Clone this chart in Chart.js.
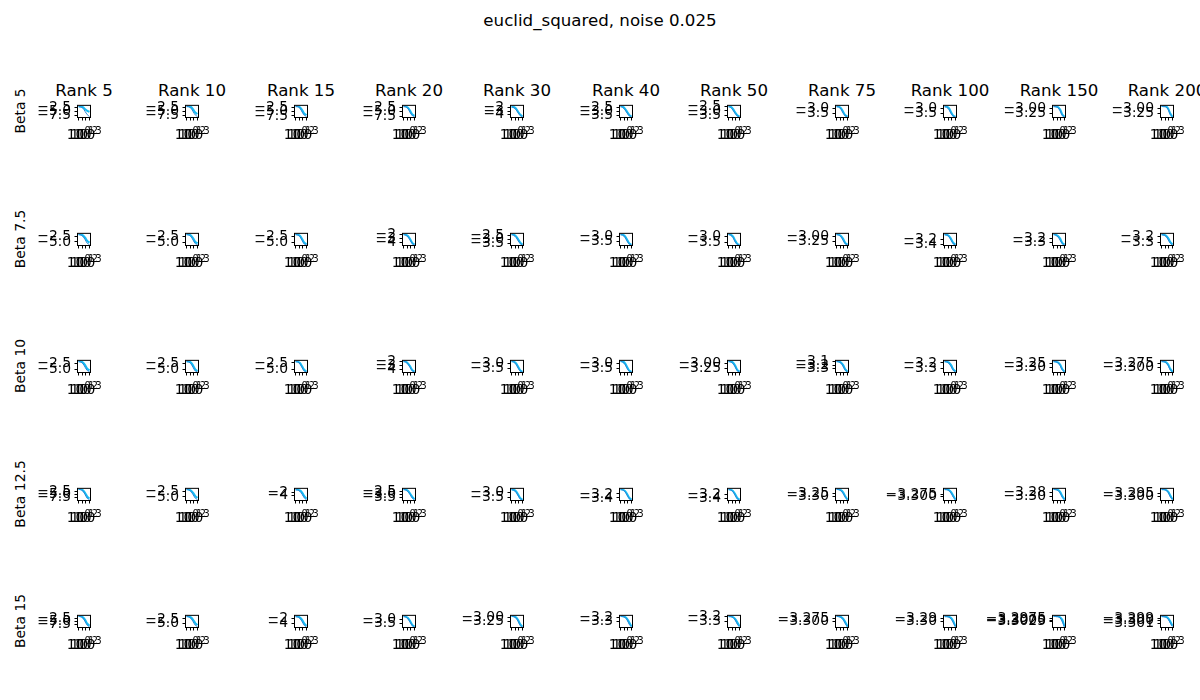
<!DOCTYPE html>
<html><head><meta charset="utf-8">
<script src="https://cdn.jsdelivr.net/npm/chart.js@4.4.0/dist/chart.umd.min.js"></script>
<style>
html,body{margin:0;padding:0;background:#fff;width:1200px;height:700px;overflow:hidden;font-family:"DejaVu Sans",sans-serif;}
#fig{position:relative;width:1200px;height:700px;}
.t{position:absolute;white-space:nowrap;color:#000;line-height:1;}
canvas{position:absolute;}
</style></head><body><div id="fig"></div>
<script>
const suptitle = "euclid_squared, noise 0.025";
const ranks = ["Rank 5","Rank 10","Rank 15","Rank 20","Rank 30","Rank 40","Rank 50","Rank 75","Rank 100","Rank 150","Rank 200"];
const betas = ["Beta 5","Beta 7.5","Beta 10","Beta 12.5","Beta 15"];
const xSteps = [1,4,16,64,250,1000];
const xTickValues = [1,10,100,1000];
const xTickBase = ["10","10","10","10"];
const xTickExp = ["0","1","2","3"];

// ---- Beta 5 ----
const limB5 = [[-8.3,-1.6],[-8.2,-1.7],[-8.1,-1.8],[-8.0,-1.8],[-4.6,-1.6],[-3.75,-2.35],[-3.7,-2.4],[-3.82,-2.73],[-3.8,-2.75],[-3.43,-2.86],[-3.42,-2.87]];
const ticksB5 = [["−2.5","−5.0","−7.5"],["−2.5","−5.0","−7.5"],["−2.5","−5.0","−7.5"],["−2.5","−5.0","−7.5"],["−2","−3","−4"],["−2.5","−3.0","−3.5"],["−2.5","−3.0","−3.5"],["−3.0","−3.5"],["−3.0","−3.5"],["−3.00","−3.25"],["−3.00","−3.25"]];
const aB5 = [
[-1.9,-2.0,-2.4,-3.6,-4.6,-5.2],
[-1.9,-2.0,-2.3,-3.8,-5.6,-6.4],
[-2.0,-2.1,-2.6,-4.2,-6.2,-7.0],
[-2.0,-2.1,-2.8,-4.6,-6.6,-7.4],
[-1.8,-1.9,-2.3,-3.2,-4.0,-4.4],
[-2.4,-2.45,-2.7,-3.1,-3.5,-3.7],
[-2.45,-2.5,-2.75,-3.15,-3.5,-3.65],
[-2.78,-2.8,-2.95,-3.3,-3.65,-3.78],
[-2.8,-2.82,-2.97,-3.35,-3.68,-3.77],
[-2.88,-2.89,-2.92,-3.05,-3.3,-3.42],
[-2.88,-2.885,-2.9,-3.0,-3.25,-3.41]];
const bB5 = [
[-2.0,-2.3,-3.0,-5.0,-6.9,-8.0],
[-2.0,-2.2,-3.0,-5.1,-7.0,-7.9],
[-2.0,-2.3,-3.1,-5.3,-7.1,-7.8],
[-2.1,-2.4,-3.3,-5.5,-7.2,-7.7],
[-1.9,-2.1,-2.6,-3.5,-4.2,-4.5],
[-2.45,-2.55,-2.85,-3.25,-3.6,-3.72],
[-2.5,-2.6,-2.9,-3.3,-3.58,-3.68],
[-2.8,-2.85,-3.05,-3.45,-3.72,-3.8],
[-2.82,-2.88,-3.1,-3.5,-3.73,-3.78],
[-2.89,-2.9,-2.95,-3.12,-3.36,-3.42],
[-2.89,-2.89,-2.92,-3.05,-3.3,-3.41]];

// ---- Beta 7.5 ----
const limB7 = [[-6.4,-1.2],[-6.3,-1.3],[-6.2,-1.4],[-4.5,-1.9],[-3.75,-2.3],[-3.8,-2.75],[-3.75,-2.78],[-3.42,-2.88],[-3.44,-2.96],[-3.35,-3.09],[-3.34,-3.15]];
const ticksB7 = [["−2.5","−5.0"],["−2.5","−5.0"],["−2.5","−5.0"],["−2","−3","−4"],["−2.5","−3.0","−3.5"],["−3.0","−3.5"],["−3.0","−3.5"],["−3.00","−3.25"],["−3.2","−3.4"],["−3.2","−3.3"],["−3.2","−3.3"]];
const aB7 = [
[-1.4,-1.5,-1.9,-3.0,-4.5,-5.3],
[-1.5,-1.6,-2.0,-3.3,-4.9,-5.6],
[-1.6,-1.7,-2.2,-3.6,-5.2,-5.8],
[-2.0,-2.1,-2.4,-3.1,-4.0,-4.4],
[-2.35,-2.4,-2.6,-3.0,-3.45,-3.7],
[-2.8,-2.83,-2.97,-3.3,-3.65,-3.77],
[-2.8,-2.85,-3.0,-3.35,-3.65,-3.73],
[-2.9,-2.92,-2.98,-3.12,-3.32,-3.4],
[-2.98,-3.0,-3.05,-3.18,-3.35,-3.42],
[-3.1,-3.11,-3.14,-3.2,-3.3,-3.34],
[-3.16,-3.165,-3.18,-3.22,-3.29,-3.33]];
const bB7 = [
[-1.5,-1.7,-2.4,-3.9,-5.6,-6.2],
[-1.6,-1.8,-2.5,-4.1,-5.7,-6.1],
[-1.7,-1.9,-2.6,-4.3,-5.8,-6.0],
[-2.05,-2.2,-2.6,-3.4,-4.2,-4.45],
[-2.4,-2.5,-2.75,-3.2,-3.58,-3.72],
[-2.82,-2.88,-3.08,-3.45,-3.72,-3.78],
[-2.82,-2.9,-3.1,-3.48,-3.7,-3.74],
[-2.91,-2.94,-3.02,-3.2,-3.37,-3.41],
[-2.99,-3.01,-3.08,-3.24,-3.39,-3.43],
[-3.1,-3.12,-3.16,-3.24,-3.32,-3.345],
[-3.16,-3.17,-3.19,-3.25,-3.31,-3.335]];

// ---- Beta 10 ----
const limB10 = [[-6.2,-1.5],[-6.1,-1.6],[-6.0,-1.7],[-4.55,-1.9],[-3.8,-2.75],[-3.78,-2.78],[-3.47,-2.83],[-3.41,-3.07],[-3.37,-3.16],[-3.36,-3.21],[-3.331,-3.256]];
const ticksB10 = [["−2.5","−5.0"],["−2.5","−5.0"],["−2.5","−5.0"],["−2","−3","−4"],["−3.0","−3.5"],["−3.0","−3.5"],["−3.00","−3.25"],["−3.1","−3.2","−3.3"],["−3.2","−3.3"],["−3.25","−3.30"],["−3.275","−3.300"]];
const aB10 = [
[-1.7,-1.8,-2.2,-3.3,-4.8,-5.5],
[-1.8,-1.9,-2.3,-3.5,-5.0,-5.7],
[-1.9,-2.0,-2.5,-3.8,-5.2,-5.8],
[-2.0,-2.1,-2.5,-3.2,-4.1,-4.45],
[-2.78,-2.82,-2.97,-3.3,-3.65,-3.77],
[-2.8,-2.84,-2.99,-3.33,-3.66,-3.76],
[-2.85,-2.87,-2.93,-3.1,-3.35,-3.45],
[-3.08,-3.09,-3.12,-3.2,-3.33,-3.4],
[-3.17,-3.175,-3.19,-3.24,-3.32,-3.36],
[-3.215,-3.22,-3.23,-3.26,-3.32,-3.355],
[-3.258,-3.26,-3.265,-3.28,-3.31,-3.33]];
const bB10 = [
[-1.8,-2.0,-2.7,-4.2,-5.6,-6.0],
[-1.85,-2.05,-2.8,-4.3,-5.7,-6.0],
[-1.95,-2.15,-2.9,-4.4,-5.7,-5.9],
[-2.05,-2.2,-2.7,-3.5,-4.3,-4.5],
[-2.8,-2.87,-3.07,-3.44,-3.72,-3.78],
[-2.82,-2.89,-3.1,-3.47,-3.72,-3.77],
[-2.86,-2.89,-2.98,-3.18,-3.4,-3.46],
[-3.085,-3.1,-3.14,-3.24,-3.36,-3.405],
[-3.17,-3.18,-3.21,-3.27,-3.34,-3.365],
[-3.22,-3.222,-3.235,-3.275,-3.335,-3.357],
[-3.26,-3.261,-3.268,-3.288,-3.318,-3.33]];

// ---- Beta 12.5 ----
const limB12 = [[-10.0,-0.2],[-6.5,-1.0],[-7.0,0.0],[-3.9,-2.1],[-3.8,-2.6],[-3.5,-2.95],[-3.46,-2.92],[-3.367,-3.167],[-3.335,-3.215],[-3.32,-3.26],[-3.3067,-3.2867]];
const ticksB12 = [["−2.5","−5.0","−7.5"],["−2.5","−5.0"],["−2","−4"],["−2.5","−3.0","−3.5"],["−3.0","−3.5"],["−3.2","−3.4"],["−3.2","−3.4"],["−3.25","−3.30"],["−3.275","−3.300"],["−3.28","−3.30"],["−3.295","−3.300"]];
const aB12 = [
[-0.4,-0.6,-1.4,-3.8,-7.0,-8.8],
[-1.2,-1.3,-1.8,-3.0,-4.6,-5.5],
[-0.4,-0.5,-1.0,-2.3,-4.6,-6.2],
[-2.15,-2.2,-2.4,-2.85,-3.4,-3.75],
[-2.65,-2.7,-2.85,-3.2,-3.6,-3.77],
[-2.97,-2.99,-3.05,-3.2,-3.4,-3.48],
[-2.94,-2.96,-3.02,-3.17,-3.36,-3.44],
[-3.17,-3.175,-3.19,-3.23,-3.3,-3.36],
[-3.218,-3.22,-3.228,-3.25,-3.29,-3.33],
[-3.261,-3.262,-3.266,-3.276,-3.298,-3.317],
[-3.2872,-3.2875,-3.2885,-3.2915,-3.2985,-3.3055]];
const bB12 = [
[-0.5,-0.9,-2.2,-5.3,-8.6,-9.6],
[-1.3,-1.5,-2.3,-3.9,-5.6,-6.3],
[-0.5,-0.8,-1.6,-3.4,-5.7,-6.8],
[-2.2,-2.28,-2.55,-3.05,-3.6,-3.85],
[-2.68,-2.75,-2.95,-3.35,-3.7,-3.79],
[-2.98,-3.01,-3.09,-3.27,-3.44,-3.49],
[-2.95,-2.98,-3.06,-3.24,-3.41,-3.45],
[-3.172,-3.18,-3.2,-3.25,-3.32,-3.365],
[-3.22,-3.223,-3.235,-3.262,-3.305,-3.333],
[-3.262,-3.263,-3.269,-3.283,-3.306,-3.319],
[-3.2875,-3.2878,-3.289,-3.293,-3.301,-3.306]];

// ---- Beta 15 ----
const limB15 = [[-10.0,-0.1],[-6.6,-0.9],[-5.6,-0.8],[-4.0,-2.5],[-3.625,-2.875],[-3.45,-3.15],[-3.42,-3.18],[-3.35,-3.25],[-3.32,-3.28],[-3.3125,-3.2925],[-3.3022,-3.2982]];
const ticksB15 = [["−2.5","−5.0","−7.5"],["−2.5","−5.0"],["−2","−4"],["−3.0","−3.5"],["−3.00","−3.25"],["−3.2","−3.3"],["−3.2","−3.3"],["−3.275","−3.300"],["−3.29","−3.30"],["−3.2975","−3.3000","−3.3025"],["−3.299","−3.300","−3.301"]];
const aB15 = [
[-0.3,-0.5,-1.3,-3.7,-7.0,-8.9],
[-1.1,-1.2,-1.7,-2.9,-4.6,-5.6],
[-1.0,-1.1,-1.5,-2.5,-4.1,-5.1],
[-2.55,-2.6,-2.8,-3.2,-3.7,-3.95],
[-2.88,-2.9,-2.97,-3.15,-3.45,-3.6],
[-3.155,-3.16,-3.18,-3.23,-3.33,-3.43],
[-3.185,-3.19,-3.205,-3.245,-3.32,-3.4],
[-3.252,-3.254,-3.26,-3.276,-3.305,-3.345],
[-3.281,-3.2815,-3.283,-3.288,-3.299,-3.318],
[-3.2928,-3.293,-3.2935,-3.295,-3.2995,-3.3115],
[-3.2983,-3.29835,-3.2985,-3.299,-3.3002,-3.3018]];
const bB15 = [
[-0.4,-0.8,-2.1,-5.2,-8.5,-9.7],
[-1.2,-1.4,-2.2,-3.9,-5.7,-6.4],
[-1.1,-1.3,-1.9,-3.3,-4.9,-5.5],
[-2.58,-2.65,-2.9,-3.38,-3.82,-3.98],
[-2.89,-2.92,-3.02,-3.25,-3.53,-3.62],
[-3.158,-3.165,-3.19,-3.26,-3.38,-3.445],
[-3.188,-3.195,-3.215,-3.27,-3.36,-3.415],
[-3.253,-3.256,-3.264,-3.284,-3.32,-3.348],
[-3.2812,-3.282,-3.285,-3.291,-3.305,-3.319],
[-3.293,-3.2932,-3.294,-3.2962,-3.303,-3.312],
[-3.2984,-3.2985,-3.2987,-3.2994,-3.3008,-3.302]];

const LIMS = [limB5, limB7, limB10, limB12, limB15];
const TICKS = [ticksB5, ticksB7, ticksB10, ticksB12, ticksB15];
const SA = [aB5, aB7, aB10, aB12, aB15];
const SB = [bB5, bB7, bB10, bB12, bB15];

// ---- layout (pixels) ----
const COL0 = 78, COLSTEP = 108.3, ROW0 = 104, ROWSTEP = 127.5, BW = 12, BH = 13;
const L = 72, R = 30, T = 10, B = 34;
const FONT = "DejaVu Sans";
const TICKSIZE = 13.9, SUPSIZE = 9.7, TITLESIZE = 16.67;

const fig = document.getElementById('fig');
function addText(txt, left, top, size, extra) {
  const d = document.createElement('div');
  d.className = 't';
  d.textContent = txt;
  d.style.fontSize = size + 'px';
  d.style.left = left + 'px';
  d.style.top = top + 'px';
  d.style.transform = extra || 'translateX(-50%)';
  fig.appendChild(d);
  return d;
}
addText(suptitle, 600, 27 - 0.846 * TITLESIZE, TITLESIZE);

const frame = {
  id: 'frame',
  afterDraw(ch) {
    const a = ch.chartArea, ctx = ch.ctx;
    ctx.save();
    ctx.strokeStyle = '#000';
    ctx.lineWidth = 1;
    ctx.strokeRect(a.left - 0.5, a.top - 0.5, a.right - a.left + 1, a.bottom - a.top + 1);
    ctx.restore();
  }
};

function makeCell(r, c) {
  const lim = LIMS[r][c];
  const tl = TICKS[r][c];
  const tv = tl.map(s => parseFloat(s.replace('\u2212', '-')));
  const bx = Math.round(COL0 + c * COLSTEP), by = Math.round(ROW0 + r * ROWSTEP);
  const cv = document.createElement('canvas');
  const W = L + BW + R, H = T + BH + B;
  cv.width = W; cv.height = H;
  cv.style.width = W + 'px'; cv.style.height = H + 'px';
  cv.style.left = (bx - L) + 'px';
  cv.style.top = (by - T) + 'px';
  fig.appendChild(cv);
  const tickFont = { family: FONT, size: TICKSIZE };
  const gridOpts = { drawOnChartArea: false, drawTicks: true, tickLength: 3.5, tickColor: '#000', tickWidth: 1, color: '#000' };
  new Chart(cv, {
    type: 'line',
    data: {
      datasets: [
        { data: xSteps.map((x, i) => ({ x: x, y: SB[r][c][i] })), borderColor: '#2b86d8', borderWidth: 1, pointRadius: 0, tension: 0.3 },
        { data: xSteps.map((x, i) => ({ x: x, y: SA[r][c][i] })), borderColor: '#16bdf3', borderWidth: 2, pointRadius: 0, tension: 0.3 }
      ]
    },
    options: {
      responsive: false, animation: false, devicePixelRatio: 1,
      layout: { padding: { left: 0, top: T, right: R, bottom: 0 } },
      plugins: { legend: { display: false }, tooltip: { enabled: false }, title: { display: false } },
      scales: {
        x: {
          type: 'logarithmic', min: 0.7, max: 1400, bounds: 'data', position: 'bottom', weight: 0,
          afterFit: s => { s.height = B; },
          afterBuildTicks: s => { s.ticks = xTickValues.map(v => ({ value: v })); },
          ticks: { autoSkip: false, maxRotation: 0, minRotation: 0, padding: 6.5, labelOffset: -3, color: '#000', font: tickFont,
                   callback: (v, i) => xTickBase[i] },
          grid: gridOpts,
          border: { display: false }
        },
        xExp: {
          type: 'logarithmic', display: true, min: 0.7, max: 1400, bounds: 'data', position: 'bottom', weight: 1, axis: 'x',
          afterFit: s => { s.height = 0; },
          afterBuildTicks: s => { s.ticks = xTickValues.map(v => ({ value: v })); },
          ticks: { display: true, mirror: true, autoSkip: false, maxRotation: 0, minRotation: 0, padding: B - 14.3 - 5.8, labelOffset: 9, color: '#000',
                   font: { family: FONT, size: SUPSIZE }, callback: (v, i) => xTickExp[i] },
          grid: { display: false, drawTicks: false, drawOnChartArea: false },
          border: { display: false }
        },
        y: {
          type: 'linear', min: lim[0], max: lim[1], bounds: 'data', position: 'left',
          afterFit: s => { s.width = L; },
          afterBuildTicks: s => { s.ticks = tv.map(v => ({ value: v })); },
          ticks: { autoSkip: false, padding: 3.5, color: '#000', font: tickFont,
                   callback: (v, i) => tl[i] },
          grid: gridOpts,
          border: { display: false }
        }
      }
    },
    plugins: [frame]
  });
}

for (let c = 0; c < ranks.length; c++) {
  const cx = Math.round(COL0 + c * COLSTEP) + BW / 2;
  addText(ranks[c], cx, ROW0 - 6.5 - 0.846 * TITLESIZE, TITLESIZE);
}
for (let r = 0; r < betas.length; r++) {
  const cy = Math.round(ROW0 + r * ROWSTEP) + BH / 2;
  addText(betas[r], 21, cy - TICKSIZE / 2, TICKSIZE, 'translateX(-50%) rotate(-90deg)');
}
for (let r = 0; r < betas.length; r++) {
  for (let c = 0; c < ranks.length; c++) makeCell(r, c);
}
</script>
</body></html>
